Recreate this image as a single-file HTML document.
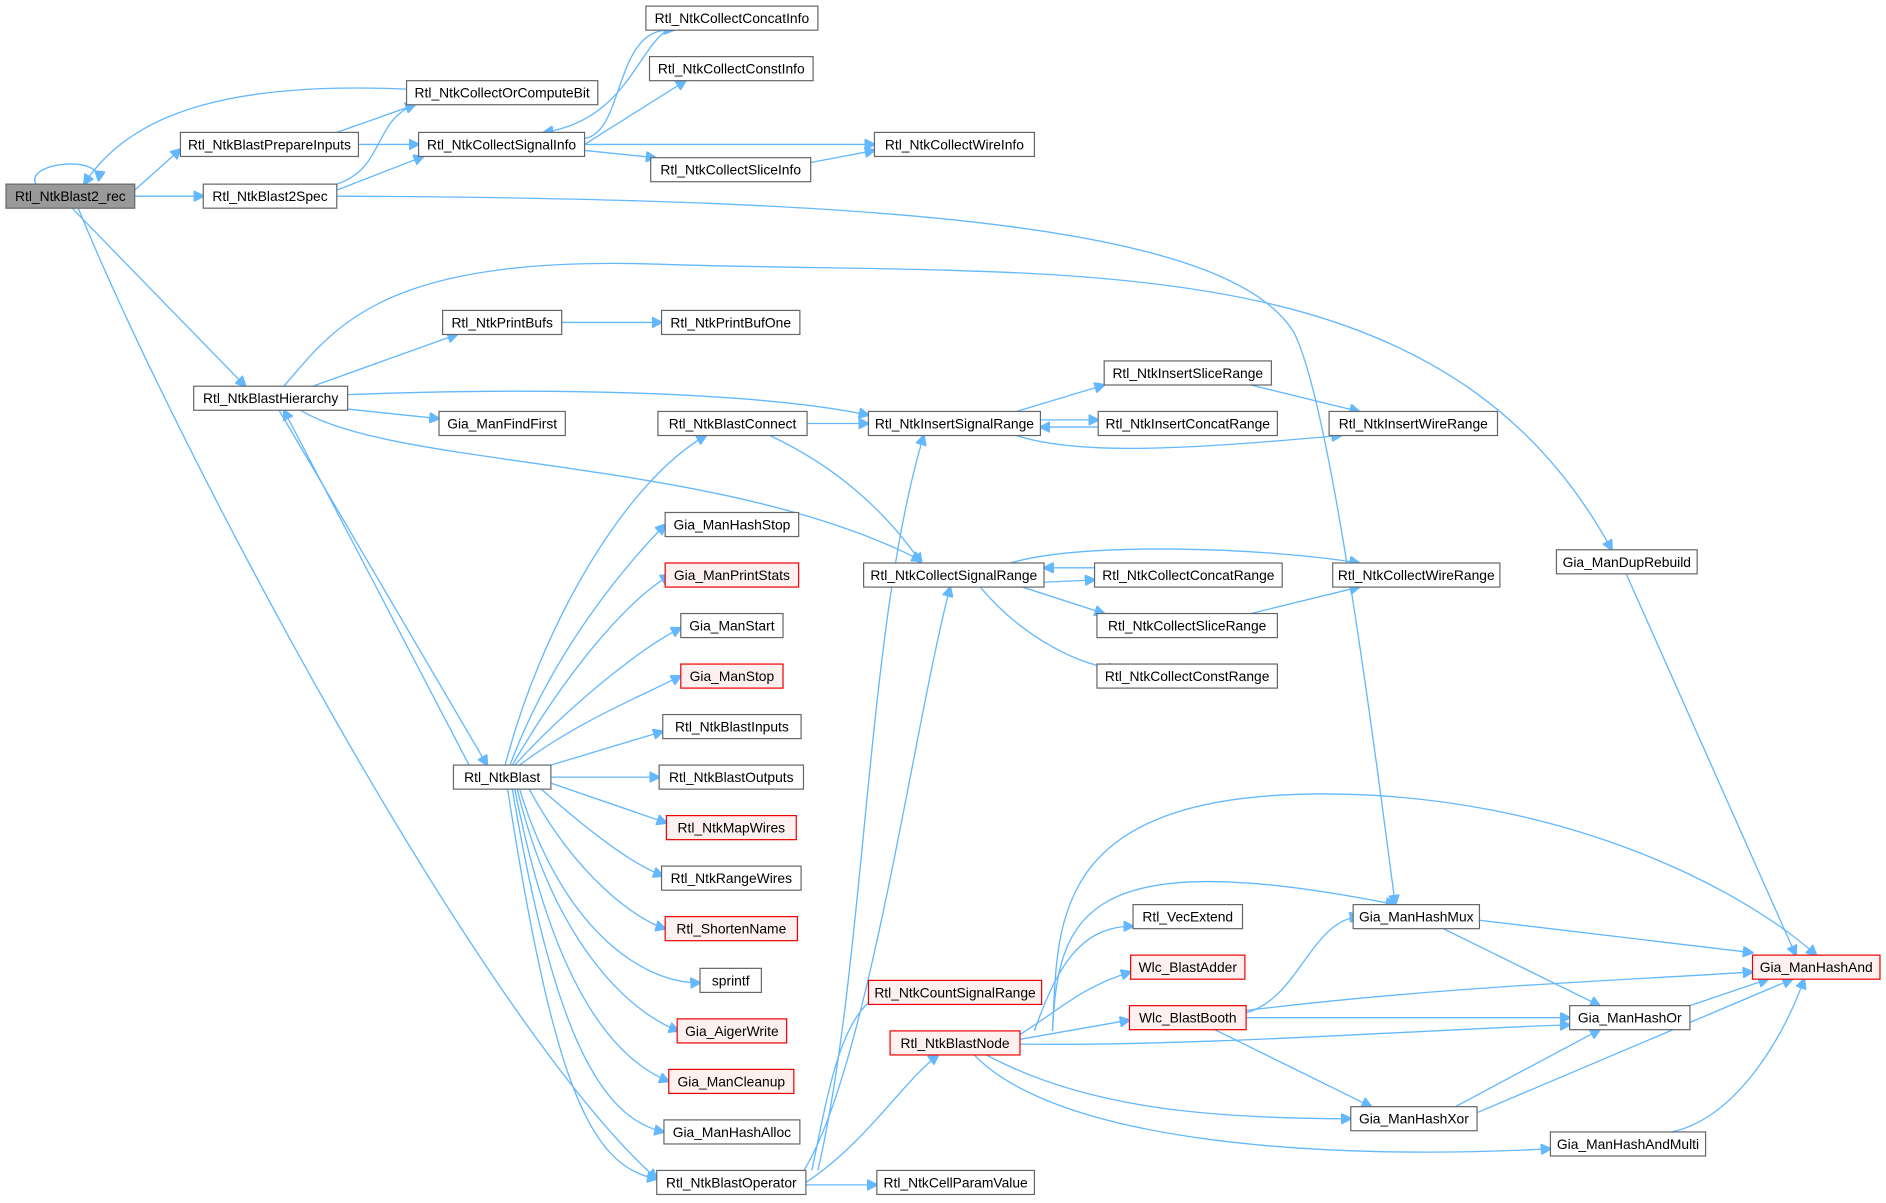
<!DOCTYPE html>
<html><head><meta charset="utf-8"><style>
html,body{margin:0;padding:0;background:#fff;}
svg{display:block;}
text{font-family:"Liberation Sans",Arial,sans-serif;font-size:11.5px;fill:#000;text-anchor:middle;dominant-baseline:central;}
.n rect{fill:#fff;stroke:#666;stroke-width:1;}
.r rect{fill:#fff0f0;stroke:#e00;}
.g rect{fill:#999;stroke:#666;}
path{fill:none;stroke:#63b8ff;stroke-width:1.1;}
</style></head><body>
<svg width="1886" height="1203" viewBox="0 0 1568 1000" xmlns="http://www.w3.org/2000/svg">
<defs><marker id="a" viewBox="0 0 10 10" refX="9" refY="5" markerWidth="9" markerHeight="9" orient="auto" markerUnits="userSpaceOnUse"><path d="M0,0 L10,5 L0,10 z" style="fill:#63b8ff;stroke:#63b8ff"/></marker></defs>
<g marker-end="url(#a)">
<path d="M30,153 C20,135 85,128 82,150"/>
<path d="M112,158 L150,124"/>
<path d="M112,163 L169,163"/>
<path d="M60,173 L204,321"/>
<path d="M65,173 C150,380 400,850 546,980"/>
<path d="M338,74 C200,68 110,90 70,153"/>
<path d="M280,110 L345,87"/>
<path d="M298,120 L348,120"/>
<path d="M280,153 C320,140 310,100 345,87"/>
<path d="M280,158 L352,130"/>
<path d="M280,163 C760,165 1020,190 1075,275 C1105,330 1140,600 1160,752"/>
<path d="M486,115 C520,110 510,20 560,25"/>
<path d="M486,120 L570,67"/>
<path d="M486,125 L545,131"/>
<path d="M486,120 L727,120"/>
<path d="M555,25 C530,40 520,100 452,110"/>
<path d="M674,135 L727,125"/>
<path d="M236,321 C280,270 320,210 560,220 C900,230 1200,200 1340,457"/>
<path d="M260,321 L380,278"/>
<path d="M289,340 L365,348"/>
<path d="M289,328 C500,320 650,330 722,345"/>
<path d="M250,341 C330,390 600,380 766,466"/>
<path d="M232,341 L405,636"/>
<path d="M390,636 L236,341"/>
<path d="M467,268 L550,268"/>
<path d="M420,636 C450,520 520,400 587,362"/>
<path d="M424,636 C460,540 520,470 553,436"/>
<path d="M426,636 C470,560 520,500 557,478"/>
<path d="M428,636 C470,590 530,540 566,522"/>
<path d="M432,636 C480,600 530,580 566,562"/>
<path d="M458,636 L551,608"/>
<path d="M458,646 L548,646"/>
<path d="M458,651 L554,684"/>
<path d="M450,656 C500,700 530,720 551,728"/>
<path d="M440,656 C480,730 530,765 553,772"/>
<path d="M432,656 C470,780 540,818 582,817"/>
<path d="M430,656 C460,780 520,840 564,857"/>
<path d="M428,656 C460,820 510,880 556,899"/>
<path d="M426,656 C460,860 500,930 552,941"/>
<path d="M422,656 C460,900 490,970 546,980"/>
<path d="M671,352 L722,352"/>
<path d="M640,362 C700,390 740,430 766,468"/>
<path d="M845,342 L918,320"/>
<path d="M865,349 L913,349"/>
<path d="M913,355 L865,355"/>
<path d="M845,362 C900,380 1000,372 1115,362"/>
<path d="M1040,320 L1130,342"/>
<path d="M840,468 C900,450 1050,455 1130,468"/>
<path d="M868,484 L910,482"/>
<path d="M910,472 L868,472"/>
<path d="M850,488 L918,510"/>
<path d="M815,488 C850,530 900,555 930,556"/>
<path d="M1040,510 L1130,488"/>
<path d="M1352,477 L1493,794"/>
<path d="M680,973 C720,800 720,520 768,362"/>
<path d="M665,978 C720,900 760,600 790,488"/>
<path d="M675,973 C690,900 700,840 735,825"/>
<path d="M670,983 C720,950 750,900 780,877"/>
<path d="M670,985 L729,985"/>
<path d="M875,857 C880,770 870,660 1100,660 C1300,660 1450,740 1510,794"/>
<path d="M875,857 C880,760 900,700 1160,752"/>
<path d="M860,857 C880,800 900,770 942,770"/>
<path d="M848,860 C880,840 900,820 940,808"/>
<path d="M848,864 L939,848"/>
<path d="M848,868 C1000,870 1200,855 1305,852"/>
<path d="M820,877 C900,920 1000,930 1123,930"/>
<path d="M810,877 C880,950 1100,965 1289,955"/>
<path d="M1036,842 C1080,830 1090,765 1130,762"/>
<path d="M1036,840 C1200,820 1350,815 1457,808"/>
<path d="M1036,846 L1305,846"/>
<path d="M1010,856 L1140,920"/>
<path d="M1230,765 L1457,792"/>
<path d="M1200,772 L1330,836"/>
<path d="M1405,836 L1470,814"/>
<path d="M1210,920 L1330,856"/>
<path d="M1228,925 L1490,814"/>
<path d="M1390,941 C1440,930 1480,870 1500,814"/>
</g>
<g class="n g"><rect x="5" y="153" width="107" height="20"/><text x="58.5" y="163">Rtl_NtkBlast2_rec</text></g>
<g class="n"><rect x="150" y="110" width="148" height="20"/><text x="224" y="120">Rtl_NtkBlastPrepareInputs</text></g>
<g class="n"><rect x="169" y="153" width="111" height="20"/><text x="224.5" y="163">Rtl_NtkBlast2Spec</text></g>
<g class="n"><rect x="338" y="67" width="159" height="20"/><text x="417.5" y="77">Rtl_NtkCollectOrComputeBit</text></g>
<g class="n"><rect x="348" y="110" width="138" height="20"/><text x="417" y="120">Rtl_NtkCollectSignalInfo</text></g>
<g class="n"><rect x="537" y="5" width="143" height="20"/><text x="608.5" y="15">Rtl_NtkCollectConcatInfo</text></g>
<g class="n"><rect x="540" y="47" width="136" height="20"/><text x="608" y="57">Rtl_NtkCollectConstInfo</text></g>
<g class="n"><rect x="541" y="131" width="133" height="20"/><text x="607.5" y="141">Rtl_NtkCollectSliceInfo</text></g>
<g class="n"><rect x="727" y="110" width="133" height="20"/><text x="793.5" y="120">Rtl_NtkCollectWireInfo</text></g>
<g class="n"><rect x="161" y="321" width="128" height="20"/><text x="225" y="331">Rtl_NtkBlastHierarchy</text></g>
<g class="n"><rect x="368" y="258" width="99" height="20"/><text x="417.5" y="268">Rtl_NtkPrintBufs</text></g>
<g class="n"><rect x="550" y="258" width="115" height="20"/><text x="607.5" y="268">Rtl_NtkPrintBufOne</text></g>
<g class="n"><rect x="365" y="342" width="105" height="20"/><text x="417.5" y="352">Gia_ManFindFirst</text></g>
<g class="n"><rect x="547" y="342" width="124" height="20"/><text x="609" y="352">Rtl_NtkBlastConnect</text></g>
<g class="n"><rect x="722" y="342" width="143" height="20"/><text x="793.5" y="352">Rtl_NtkInsertSignalRange</text></g>
<g class="n"><rect x="918" y="300" width="139" height="20"/><text x="987.5" y="310">Rtl_NtkInsertSliceRange</text></g>
<g class="n"><rect x="913" y="342" width="149" height="20"/><text x="987.5" y="352">Rtl_NtkInsertConcatRange</text></g>
<g class="n"><rect x="1105" y="342" width="140" height="20"/><text x="1175" y="352">Rtl_NtkInsertWireRange</text></g>
<g class="n"><rect x="553" y="426" width="111" height="20"/><text x="608.5" y="436">Gia_ManHashStop</text></g>
<g class="n r"><rect x="553" y="468" width="111" height="20"/><text x="608.5" y="478">Gia_ManPrintStats</text></g>
<g class="n"><rect x="566" y="510" width="85" height="20"/><text x="608.5" y="520">Gia_ManStart</text></g>
<g class="n r"><rect x="566" y="552" width="85" height="20"/><text x="608.5" y="562">Gia_ManStop</text></g>
<g class="n"><rect x="551" y="594" width="115" height="20"/><text x="608.5" y="604">Rtl_NtkBlastInputs</text></g>
<g class="n"><rect x="548" y="636" width="120" height="20"/><text x="608" y="646">Rtl_NtkBlastOutputs</text></g>
<g class="n r"><rect x="554" y="678" width="108" height="20"/><text x="608" y="688">Rtl_NtkMapWires</text></g>
<g class="n"><rect x="550" y="720" width="116" height="20"/><text x="608" y="730">Rtl_NtkRangeWires</text></g>
<g class="n r"><rect x="553" y="762" width="110" height="20"/><text x="608" y="772">Rtl_ShortenName</text></g>
<g class="n"><rect x="582" y="805" width="51" height="20"/><text x="607.5" y="815">sprintf</text></g>
<g class="n r"><rect x="563" y="847" width="91" height="20"/><text x="608.5" y="857">Gia_AigerWrite</text></g>
<g class="n r"><rect x="556" y="889" width="104" height="20"/><text x="608" y="899">Gia_ManCleanup</text></g>
<g class="n"><rect x="552" y="931" width="113" height="20"/><text x="608.5" y="941">Gia_ManHashAlloc</text></g>
<g class="n"><rect x="546" y="973" width="124" height="20"/><text x="608" y="983">Rtl_NtkBlastOperator</text></g>
<g class="n"><rect x="377" y="636" width="81" height="20"/><text x="417.5" y="646">Rtl_NtkBlast</text></g>
<g class="n"><rect x="718" y="468" width="150" height="20"/><text x="793" y="478">Rtl_NtkCollectSignalRange</text></g>
<g class="n"><rect x="910" y="468" width="156" height="20"/><text x="988" y="478">Rtl_NtkCollectConcatRange</text></g>
<g class="n"><rect x="912" y="510" width="150" height="20"/><text x="987" y="520">Rtl_NtkCollectSliceRange</text></g>
<g class="n"><rect x="912" y="552" width="150" height="20"/><text x="987" y="562">Rtl_NtkCollectConstRange</text></g>
<g class="n"><rect x="1108" y="468" width="139" height="20"/><text x="1177.5" y="478">Rtl_NtkCollectWireRange</text></g>
<g class="n"><rect x="1294" y="457" width="117" height="20"/><text x="1352.5" y="467">Gia_ManDupRebuild</text></g>
<g class="n"><rect x="942" y="752" width="91" height="20"/><text x="987.5" y="762">Rtl_VecExtend</text></g>
<g class="n r"><rect x="940" y="794" width="95" height="20"/><text x="987.5" y="804">Wlc_BlastAdder</text></g>
<g class="n r"><rect x="939" y="836" width="97" height="20"/><text x="987.5" y="846">Wlc_BlastBooth</text></g>
<g class="n r"><rect x="722" y="815" width="144" height="20"/><text x="794" y="825">Rtl_NtkCountSignalRange</text></g>
<g class="n r"><rect x="740" y="857" width="108" height="20"/><text x="794" y="867">Rtl_NtkBlastNode</text></g>
<g class="n"><rect x="729" y="973" width="131" height="20"/><text x="794.5" y="983">Rtl_NtkCellParamValue</text></g>
<g class="n"><rect x="1125" y="752" width="105" height="20"/><text x="1177.5" y="762">Gia_ManHashMux</text></g>
<g class="n r"><rect x="1457" y="794" width="106" height="20"/><text x="1510" y="804">Gia_ManHashAnd</text></g>
<g class="n"><rect x="1305" y="836" width="100" height="20"/><text x="1355" y="846">Gia_ManHashOr</text></g>
<g class="n"><rect x="1123" y="920" width="105" height="20"/><text x="1175.5" y="930">Gia_ManHashXor</text></g>
<g class="n"><rect x="1289" y="941" width="129" height="20"/><text x="1353.5" y="951">Gia_ManHashAndMulti</text></g>
</svg>
</body></html>
